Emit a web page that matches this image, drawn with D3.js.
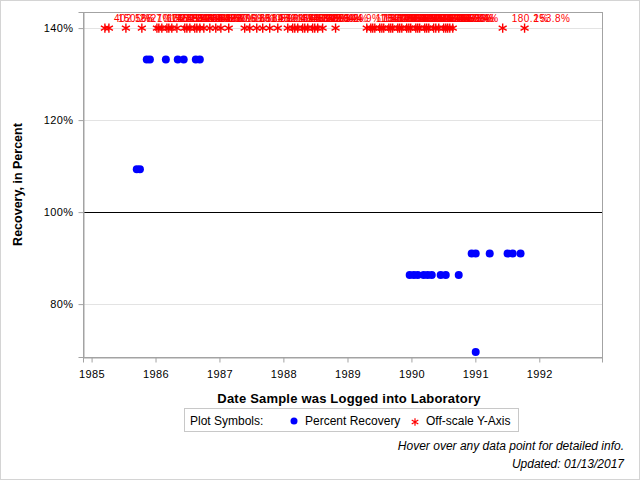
<!DOCTYPE html>
<html>
<head>
<meta charset="utf-8">
<script src="https://cdn.jsdelivr.net/npm/d3@7"></script>
<style>
body { margin: 0; background: #fff; }
svg text { font-family: "Liberation Sans", Arial, sans-serif; }
</style>
</head>
<body>
<div id="chart"></div>
<script>
// on-scale percent recovery samples
var recDates = ["1985-09-16", "1985-10-04", "1985-11-12", "1985-11-30", "1986-03-01", "1986-05-08",
  "1986-06-11", "1986-08-19", "1986-09-11", "1989-12-22", "1990-01-15", "1990-02-06", "1990-03-12",
  "1990-04-04", "1990-04-27", "1990-06-17", "1990-07-16", "1990-09-28", "1990-12-11", "1991-01-03",
  "1991-01-03", "1991-03-24", "1991-07-04", "1991-08-02", "1991-09-16"];
var recValues = [109.3, 109.3, 133.2, 133.2, 133.2, 133.2,
  133.2, 133.2, 133.2, 86.3, 86.3, 86.3, 86.3,
  86.3, 86.3, 86.3, 86.3, 86.3, 91.0, 91.0,
  69.6, 91.0, 91.0, 91.0, 91.0];

// off-scale samples: drawn at the top of the axis, labelled with the real value
var offDates = ["1985-03-18", "1985-04-10", "1985-07-16", "1985-10-15", "1986-01-09", "1986-01-20",
  "1986-02-06", "1986-03-07", "1986-03-18", "1986-04-04", "1986-05-03", "1986-06-17", "1986-06-29",
  "1986-07-16", "1986-08-13", "1986-08-25", "1986-09-11", "1986-10-04", "1986-11-07", "1986-12-11",
  "1987-01-09", "1987-02-23", "1987-05-25", "1987-06-23", "1987-08-02", "1987-09-05", "1987-10-15",
  "1987-11-30", "1988-01-26", "1988-02-23", "1988-03-06", "1988-03-23", "1988-04-20", "1988-05-02",
  "1988-05-19", "1988-06-16", "1988-06-28", "1988-07-15", "1988-08-12", "1988-10-25", "1989-04-21",
  "1989-05-14", "1989-05-25", "1989-06-06", "1989-07-04", "1989-07-16", "1989-07-27", "1989-08-25",
  "1989-09-05", "1989-09-16", "1989-10-15", "1989-10-26", "1989-11-07", "1989-12-05", "1989-12-17",
  "1989-12-28", "1990-01-26", "1990-02-06", "1990-02-17", "1990-03-18", "1990-03-29", "1990-04-10",
  "1990-05-08", "1990-05-20", "1990-06-06", "1990-07-04", "1990-07-16", "1990-07-27", "1990-08-08",
  "1990-08-25", "1991-06-06", "1991-10-09"];
var offValues = [402.5, 150.2, 166.7, 210.0, 175.4, 152.6,
  148.9, 160.3, 171.2, 255.1, 183.6, 152.4, 146.5,
  171.8, 149.0, 158.8, 194.2, 163.5, 147.7, 158.1,
  220.6, 176.3, 168.0, 151.5, 189.9, 145.2, 172.4,
  161.1, 154.8, 198.3, 165.9, 147.1, 166.0, 157.2,
  181.7, 150.6, 149.3, 159.4, 213.2, 144.9, 175.0,
  164.2, 186.1, 153.3, 170.8, 162.4, 187.5, 146.4,
  178.9, 162.9, 376.0, 151.1, 155.7, 149.8, 168.6,
  201.4, 158.6, 145.9, 167.3, 144.4, 173.7, 192.1,
  151.9, 160.7, 174.6, 148.2, 155.3, 163.0, 147.6,
  156.4, 180.2, 153.8];

var yTicks = [80, 100, 120, 140];
var xTickYears = [1985, 1986, 1987, 1988, 1989, 1990, 1991, 1992];
var yClamp = 140;

var width = 640, height = 480;
var plot = {left: 83, right: 602, top: 12, bottom: 357};

var parse = d3.timeParse("%Y-%m-%d");
var fmt = d3.format(".1f");

var svg = d3.select("#chart").append("svg")
    .attr("width", width)
    .attr("height", height);

// outer border
svg.append("rect")
    .attr("x", 0.5).attr("y", 0.5)
    .attr("width", width - 1).attr("height", height - 1)
    .attr("fill", "#fff")
    .attr("stroke", "#d4d4d4");

var x = d3.scaleTime()
    .domain([parse("1984-11-13"), parse("1992-12-24")])
    .range([plot.left, plot.right]);
var y = d3.scaleLinear()
    .domain([68.5, 143.5])
    .range([plot.bottom, plot.top]);

// grid lines
svg.append("g").selectAll("line")
    .data(yTicks.filter(d => d != 100))
    .enter().append("line")
    .attr("x1", plot.left).attr("x2", plot.right)
    .attr("y1", d => Math.round(y(d)) + 0.5)
    .attr("y2", d => Math.round(y(d)) + 0.5)
    .attr("stroke", "#e3e3e3");

// 100% reference
svg.append("line")
    .attr("x1", plot.left).attr("x2", plot.right)
    .attr("y1", Math.round(y(100)) + 0.5)
    .attr("y2", Math.round(y(100)) + 0.5)
    .attr("stroke", "#000");

// frame
svg.append("rect")
    .attr("x", plot.left + 0.5).attr("y", plot.top + 0.5)
    .attr("width", plot.right - plot.left).attr("height", plot.bottom - plot.top)
    .attr("fill", "none")
    .attr("stroke", "#a3a3a3");

// axes
var yAxis = d3.axisLeft(y)
    .tickValues(yTicks)
    .tickSize(5)
    .tickPadding(5)
    .tickFormat(d => d + "%");
var gy = svg.append("g")
    .attr("transform", "translate(" + (plot.left + 0.5) + ",0)")
    .call(yAxis);

var xAxis = d3.axisBottom(x)
    .tickValues(xTickYears.map(d => new Date(d, 0, 1)))
    .tickSize(5)
    .tickPadding(8)
    .tickFormat(d3.timeFormat("%Y"));
var gx = svg.append("g")
    .attr("transform", "translate(0," + (plot.bottom + 0.5) + ")")
    .call(xAxis);

[gx, gy].forEach(function(g) {
  g.select(".domain").attr("stroke", "#a3a3a3");
  g.selectAll(".tick line").attr("stroke", "#a3a3a3");
  g.selectAll(".tick text")
      .attr("fill", "#000")
      .style("font-size", "11px")
      .style("letter-spacing", "0.4px");
});

// axis labels
svg.append("text")
    .attr("x", 349)
    .attr("y", 403)
    .attr("text-anchor", "middle")
    .style("font-size", "13px")
    .style("font-weight", "bold")
    .style("letter-spacing", "0.2px")
    .text("Date Sample was Logged into Laboratory");

svg.append("text")
    .attr("transform", "translate(22," + ((plot.top + plot.bottom) / 2) + ") rotate(-90)")
    .attr("text-anchor", "middle")
    .style("font-size", "12.5px")
    .style("font-weight", "bold")
    .text("Recovery, in Percent");

// off-scale markers and their labels
var offData = offDates.map((d, i) => ({date: parse(d), value: offValues[i]}));
var star = d3.symbol(d3.symbolAsterisk, 60);

svg.append("g").selectAll("path")
    .data(offData)
    .enter().append("path")
    .attr("d", star)
    .attr("transform", d => "translate(" + x(d.date) + "," + y(yClamp) + ")")
    .attr("fill", "none")
    .attr("stroke", "#ff0000")
    .attr("stroke-width", 1.4)
    .append("title")
    .text(d => d3.timeFormat("%m/%d/%Y")(d.date) + " | " + fmt(d.value) + "%");

svg.append("g").selectAll("text")
    .data(offData)
    .enter().append("text")
    .attr("x", d => x(d.date) + 9)
    .attr("y", y(yClamp) - 6)
    .attr("fill", "#ff0000")
    .style("font-size", "10px")
    .style("letter-spacing", "0.5px")
    .text(d => fmt(d.value) + "%");

// percent recovery dots
var recData = recDates.map((d, i) => ({date: parse(d), value: recValues[i]}));
svg.append("g").selectAll("circle")
    .data(recData)
    .enter().append("circle")
    .attr("cx", d => x(d.date))
    .attr("cy", d => y(d.value))
    .attr("r", 4)
    .attr("fill", "#0000ff")
    .append("title")
    .text(d => d3.timeFormat("%m/%d/%Y")(d.date) + " | " + fmt(d.value) + "%");

// legend
var lg = svg.append("g");
lg.append("rect")
    .attr("x", 184.5).attr("y", 408.5)
    .attr("width", 334).attr("height", 23)
    .attr("fill", "none")
    .attr("stroke", "#c8c8c8");
lg.append("text")
    .attr("x", 190).attr("y", 425)
    .style("font-size", "12px")
    .text("Plot Symbols:");
lg.append("circle")
    .attr("cx", 294).attr("cy", 421)
    .attr("r", 3.5)
    .attr("fill", "#0000ff");
lg.append("text")
    .attr("x", 305).attr("y", 425)
    .style("font-size", "12px")
    .text("Percent Recovery");
lg.append("path")
    .attr("d", d3.symbol(d3.symbolAsterisk, 40))
    .attr("transform", "translate(415,422)")
    .attr("fill", "none")
    .attr("stroke", "#ff0000")
    .attr("stroke-width", 1.2);
lg.append("text")
    .attr("x", 426).attr("y", 425)
    .style("font-size", "12px")
    .text("Off-scale Y-Axis");

// footnotes
svg.append("text")
    .attr("x", 624).attr("y", 450)
    .attr("text-anchor", "end")
    .style("font-size", "12px")
    .style("font-style", "italic")
    .text("Hover over any data point for detailed info.");
svg.append("text")
    .attr("x", 624).attr("y", 468)
    .attr("text-anchor", "end")
    .style("font-size", "12px")
    .style("font-style", "italic")
    .text("Updated: 01/13/2017");
</script>
</body>
</html>
